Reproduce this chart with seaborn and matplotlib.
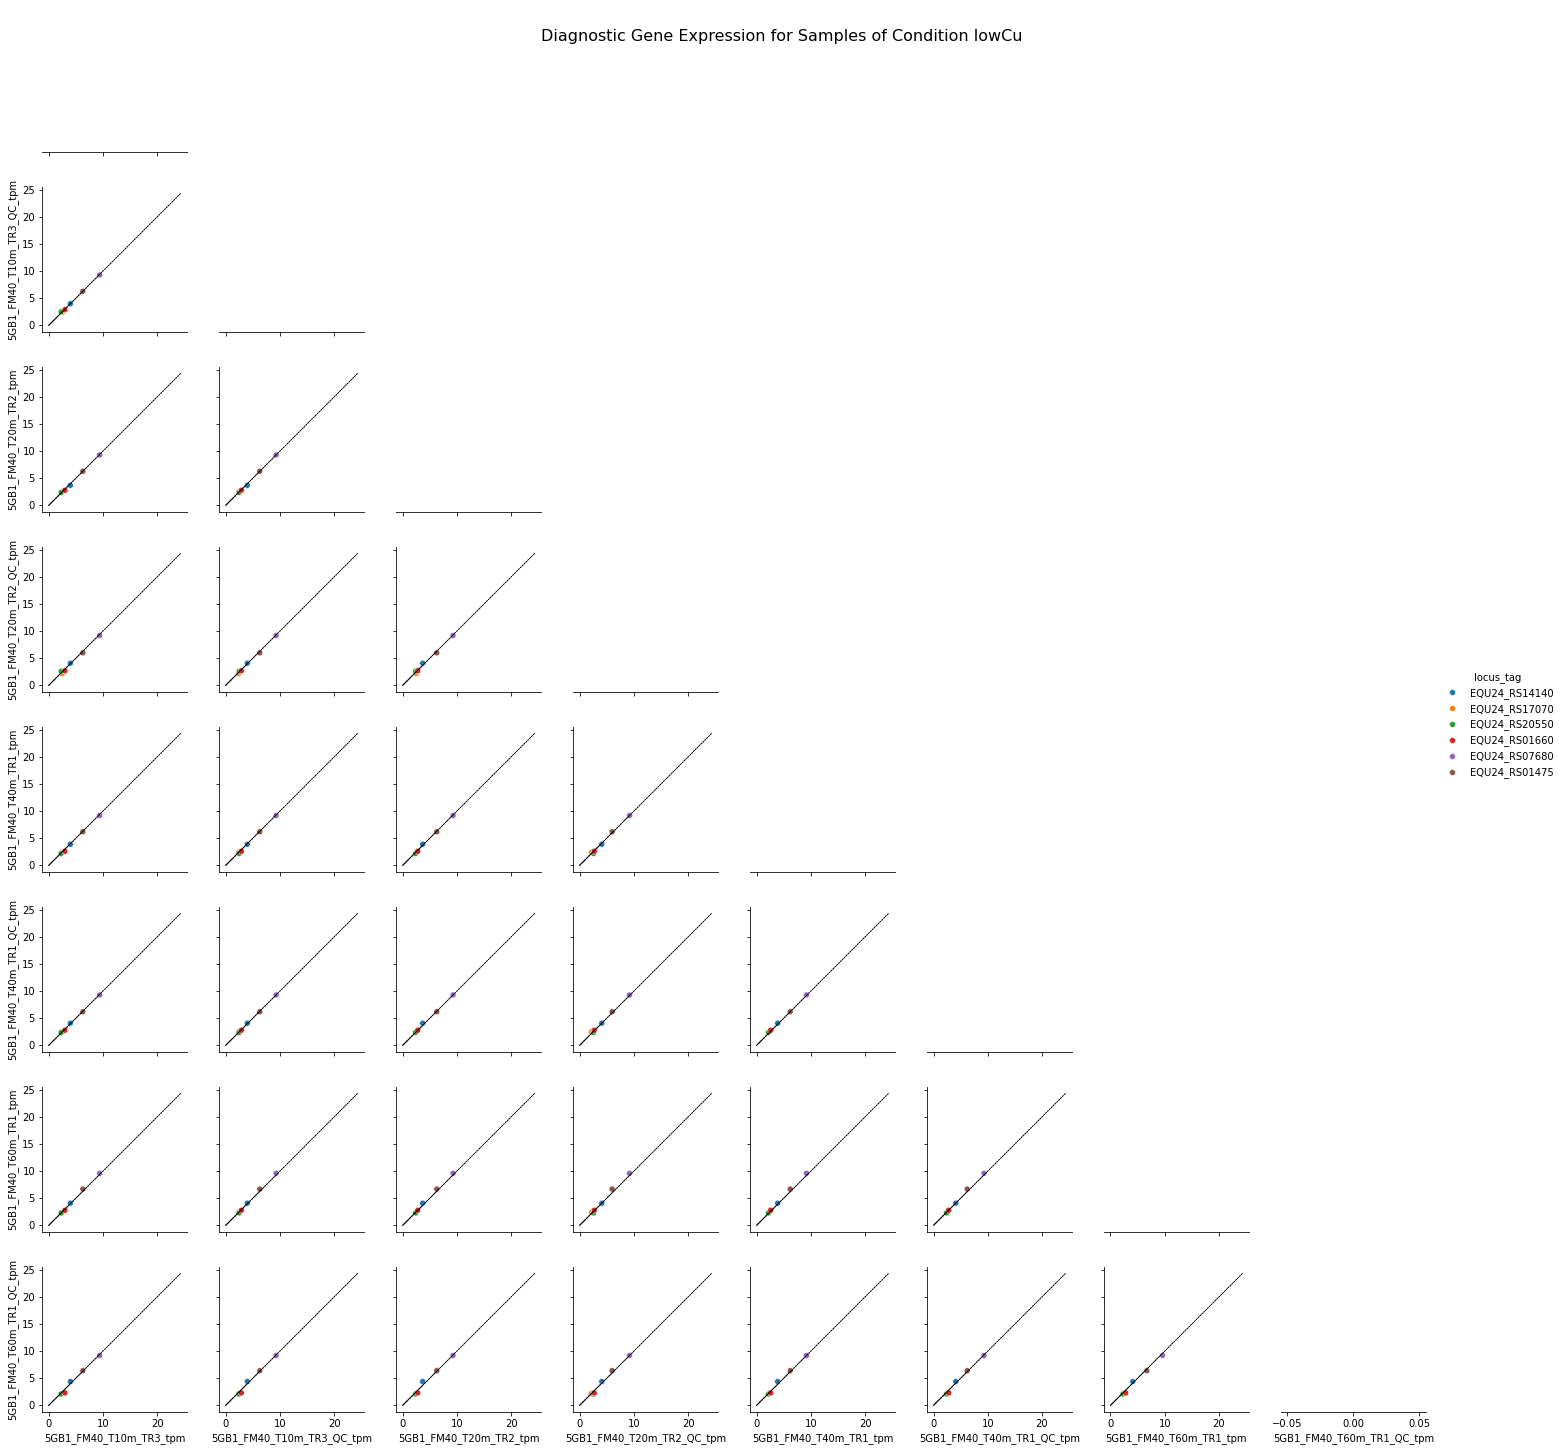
import matplotlib
matplotlib.use("Agg")
import matplotlib.pyplot as plt
import numpy as np
import pandas as pd
import seaborn as sns

locus_tags = ["EQU24_RS14140", "EQU24_RS17070", "EQU24_RS20550",
              "EQU24_RS01660", "EQU24_RS07680", "EQU24_RS01475"]

sample_cols = ["5GB1_FM40_T10m_TR3_tpm", "5GB1_FM40_T10m_TR3_QC_tpm",
               "5GB1_FM40_T20m_TR2_tpm", "5GB1_FM40_T20m_TR2_QC_tpm",
               "5GB1_FM40_T40m_TR1_tpm", "5GB1_FM40_T40m_TR1_QC_tpm",
               "5GB1_FM40_T60m_TR1_tpm", "5GB1_FM40_T60m_TR1_QC_tpm"]

# tpm values per sample, in locus_tags order
t10m_tr3 = [4.0, 2.5, 2.3, 3.0, 9.4, 6.3]
t10m_tr3_qc = [4.0, 2.4, 2.5, 2.9, 9.3, 6.3]
t20m_tr2 = [3.7, 2.5, 2.4, 2.8, 9.3, 6.3]
t20m_tr2_qc = [4.1, 2.2, 2.6, 2.7, 9.2, 6.0]
t40m_tr1 = [3.9, 2.4, 2.2, 2.6, 9.2, 6.2]
t40m_tr1_qc = [4.1, 2.5, 2.4, 2.8, 9.3, 6.2]
t60m_tr1 = [4.1, 2.4, 2.3, 2.8, 9.6, 6.7]
t60m_tr1_qc = [4.4, 2.2, 2.1, 2.3, 9.2, 6.4]

diag_max = 24.3  # extent of the y = x reference line

condition = "lowCu"


def identity_line(x, y, **kwargs):
    ax = plt.gca()
    # one dashed y = x segment per locus, drawn down to the origin, plus the full one
    m = max(x.max(), y.max())
    ax.plot([m, 0], [m, 0], ls="--", lw=0.45, color="k")
    ax.plot([diag_max, 0], [diag_max, 0], ls="--", lw=0.5, color="k", alpha=0.6)


def main():
    df = pd.DataFrame(dict(zip(sample_cols, [t10m_tr3, t10m_tr3_qc, t20m_tr2, t20m_tr2_qc,
                                             t40m_tr1, t40m_tr1_qc, t60m_tr1, t60m_tr1_qc])))
    df["locus_tag"] = locus_tags

    g = sns.PairGrid(df, hue="locus_tag", hue_order=locus_tags, corner=True, height=2.5)
    g.map_lower(sns.scatterplot)
    g.map_lower(identity_line)
    g.map_diag(sns.kdeplot, warn_singular=False)
    g.add_legend()

    # last column has nothing drawn on it
    g.axes[-1, -1].set_xlim(-0.055, 0.055)

    fig = g.figure
    fig.set_size_inches(1563 / 72, 1450 / 72)
    fig.subplots_adjust(left=0.0269, right=0.9123, bottom=0.0262, top=0.9952,
                        wspace=0.22, hspace=0.241)
    fig.suptitle(f"Diagnostic Gene Expression for Samples of Condition {condition}", fontsize=16)
    fig.savefig("out.png", dpi=72)


if __name__ == "__main__":
    main()
